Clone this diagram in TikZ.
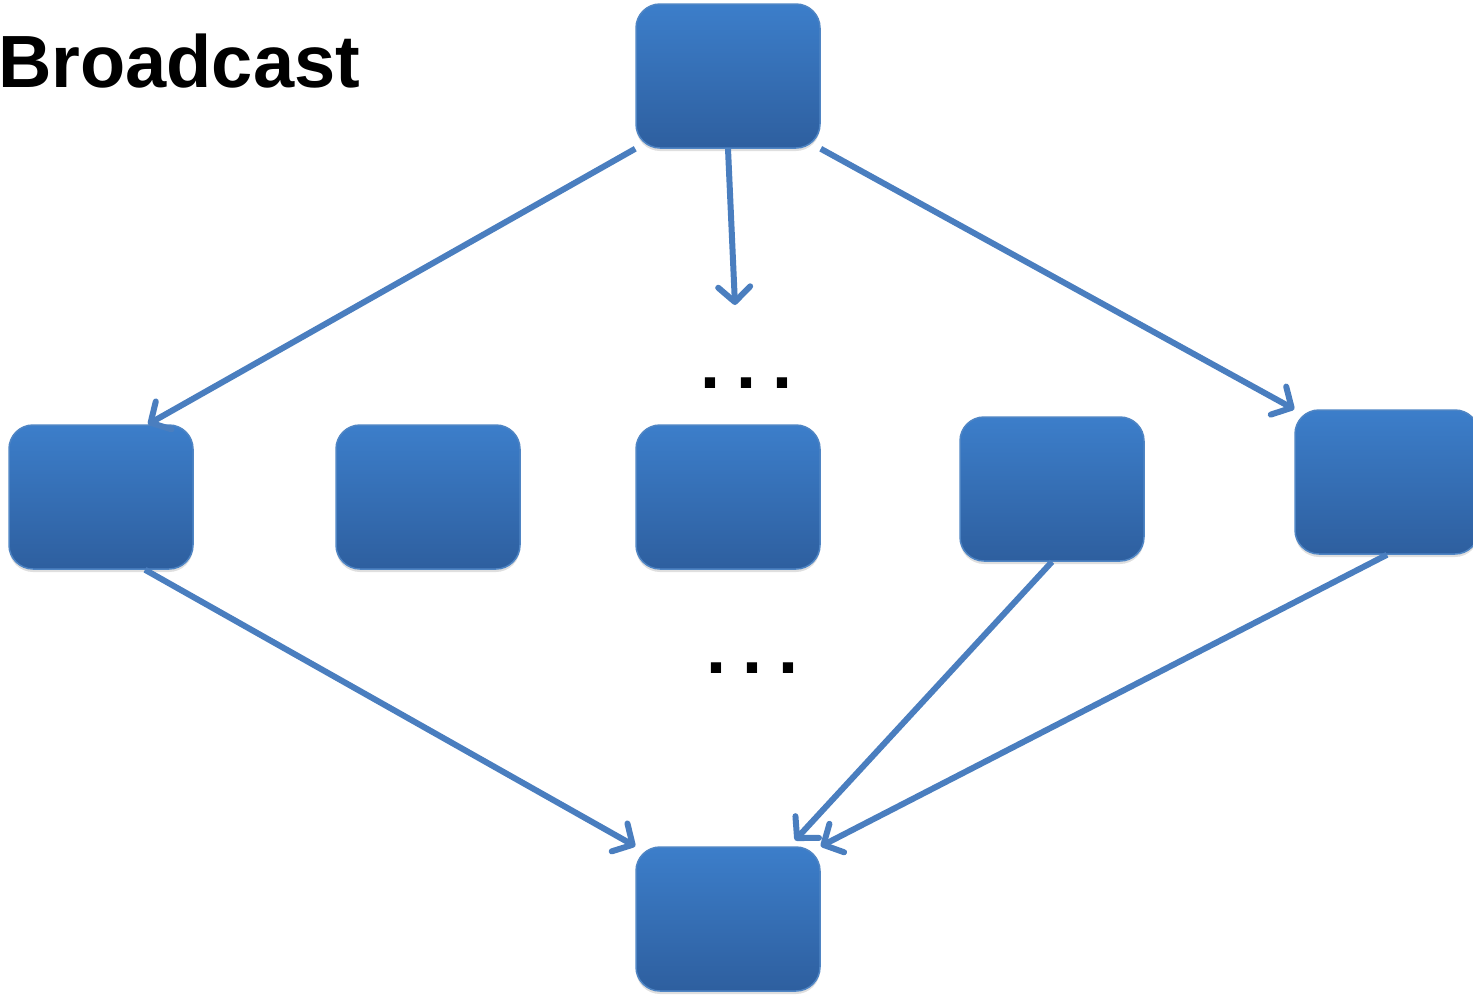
\documentclass[tikz,border=0pt]{standalone}
\usepackage{fontspec}
\setmainfont{Liberation Sans}
\usetikzlibrary{positioning, arrows.meta, shadows}

\definecolor{boxtop}{HTML}{3C7ECA}
\definecolor{boxbot}{HTML}{2E5F9F}
\definecolor{boxrim}{HTML}{4F85C4}
\definecolor{linkblue}{HTML}{4A7EBF}

\tikzset{
  block/.style={rectangle, rounded corners=24pt, minimum width=184pt,
    minimum height=144pt, inner sep=0pt, top color=boxtop,
    bottom color=boxbot, draw=boxrim, line width=1.5pt,
    drop shadow={opacity=0.25, shadow xshift=0pt, shadow yshift=-3pt}},
  link/.style={draw=linkblue, line width=6pt,
    -{Straight Barb[length=15pt, width=32pt, round]}},
  dots/.style={font=\bfseries\fontsize{72}{74}\selectfont, inner sep=0pt}
}

\begin{document}
\begin{tikzpicture}[x=1pt, y=-1pt]
		\useasboundingbox (0,0) rectangle (1473,994);
		\node [anchor=base west, inner sep=0pt,
			font=\bfseries\fontsize{74}{80}\selectfont] (title) at (-2,87) {Broadcast};
		% source and sink
		\node [block] (src) at (728,76) {};
		\node [block] (sink) at (728,919) {};
		% middle row
		\foreach \name/\x/\y in {b1/101/497, b2/428/497, b3/728/497, b4/1052/489, b5/1387/482} {
			\node [block] (\name) at (\x,\y) {};
		};
		\node [dots] (dots-up) at (746,383) {.\kern16pt.\kern16pt.};
		\node [dots] (dots-low) at (752,668) {.\kern16pt.\kern16pt.};
		\coordinate (gap) at (735,305);
		% broadcast links
		\draw [link] (src.south west) -- ([xshift=47pt]b1.north);
		\draw [link] (src.south) -- (gap);
		\draw [link] (src.south east) -- (b5.north west);
		% gather links
		\draw [link] ([xshift=44pt]b1.south) -- (sink.north west);
		\draw [link] (b4.south) -- ([xshift=67pt, yshift=6pt]sink.north);
		\draw [link] (b5.south) -- (sink.north east);
	\end{tikzpicture}
\end{document}
